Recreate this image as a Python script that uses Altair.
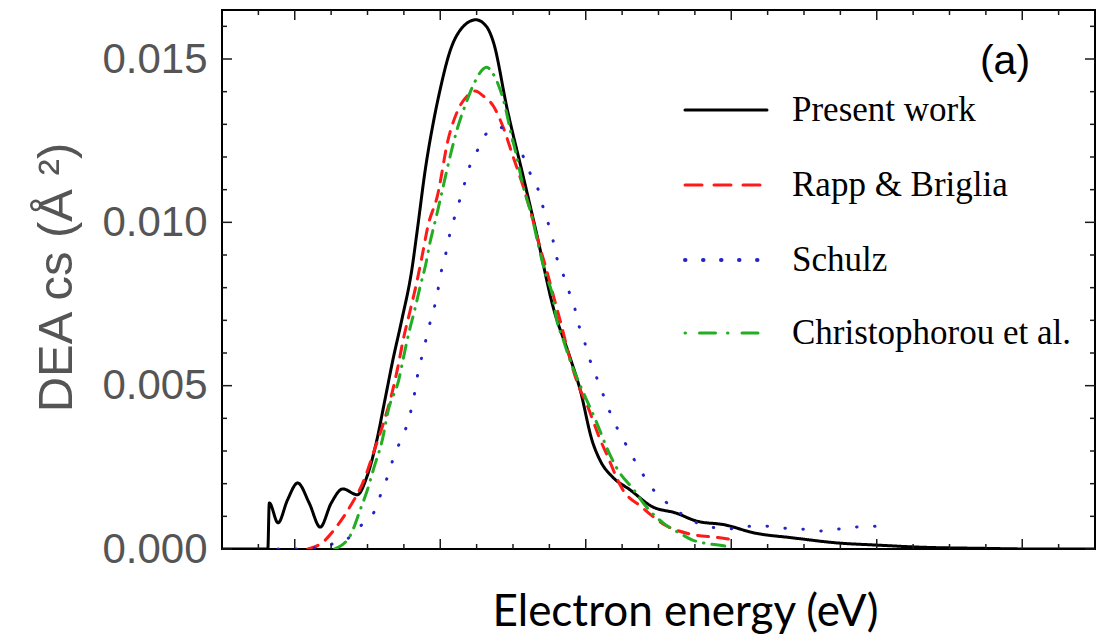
import altair as alt
import pandas as pd

# ---------------- data ----------------
series_names = ["Present work", "Rapp & Briglia", "Schulz", "Christophorou et al."]
series_colors = ["#000000", "#ff1a1a", "#2424c4", "#22ad22"]
series_dashes = [[1, 0], [11, 9], [0.5, 17.5], [13, 8, 0.5, 8]]
series_widths = [3, 3, 4, 3]

present_x = [3.00, 3.63, 3.65, 3.77, 3.90, 4.04, 4.20, 4.35, 4.50, 4.66, 4.86, 4.99,
             5.12, 5.24, 5.35, 5.47, 5.61, 5.68, 5.80, 5.90, 6.00, 6.13, 6.31, 6.49,
             6.64, 6.73, 6.92, 7.14, 7.33, 7.55, 7.78, 7.92, 8.09, 8.20, 8.37, 8.61,
             8.91, 9.24, 9.53, 9.91, 10.30, 10.85, 11.49, 12.00, 12.55, 13.46, 14.20, 15.00]
present_y = [0.0, 0.0, 0.00141, 0.00080, 0.00150, 0.00202, 0.00140, 0.00067, 0.00140, 0.00184, 0.00166, 0.00220,
             0.00325, 0.00457, 0.00580, 0.00700, 0.00856, 0.00969, 0.01170, 0.01300, 0.01408, 0.01521, 0.01598, 0.01620,
             0.01598, 0.01552, 0.01347, 0.01141, 0.00960, 0.00742, 0.00589, 0.00490, 0.00330, 0.00270, 0.00220, 0.00181,
             0.00130, 0.00110, 0.00085, 0.00074, 0.00050, 0.00034, 0.00018, 0.00012, 0.00006, 0.00002, 0.0, 0.0]

rapp_x = [4.18, 4.37, 4.56, 4.76, 4.95, 5.09, 5.24, 5.34, 5.42, 5.49, 5.58, 5.68, 5.75,
          5.83, 5.96, 6.11, 6.23, 6.37, 6.48, 6.59, 6.73, 6.86, 7.00, 7.14, 7.26, 7.34,
          7.47, 7.58, 7.67, 7.76, 7.88, 8.02, 8.20, 8.28, 8.51, 8.76, 9.10, 9.43, 9.82, 9.98]
rapp_y = [0.0, 0.00018, 0.00064, 0.00130, 0.00210, 0.00300, 0.00400, 0.00480, 0.00560, 0.00640, 0.00724, 0.00820, 0.00896,
          0.00988, 0.01080, 0.01255, 0.01337, 0.01387, 0.01402, 0.01387, 0.01356, 0.01294, 0.01202, 0.01110, 0.01018, 0.00948,
          0.00847, 0.00755, 0.00681, 0.00601, 0.00512, 0.00440, 0.00334, 0.00294, 0.00181, 0.00130, 0.00072, 0.00046, 0.00035, 0.00030]

schulz_x = [3.77, 4.06, 4.28, 4.51, 4.76, 4.92, 5.09, 5.17, 5.27, 5.34, 5.43, 5.53, 5.60,
            5.65, 5.69, 5.76, 5.86, 5.94, 6.02, 6.08, 6.13, 6.20, 6.27, 6.34, 6.41, 6.52,
            6.64, 6.82, 7.00, 7.14, 7.23, 7.34, 7.41, 7.48, 7.55, 7.60, 7.69, 7.77, 7.85,
            7.91, 7.99, 8.06, 8.15, 8.24, 8.33, 8.43, 8.54, 8.66, 8.79, 8.92, 9.10, 9.30,
            9.50, 9.75, 9.98, 10.23, 10.49, 10.73, 10.97, 11.22, 11.47, 11.70, 11.98]
schulz_y = [0.0, 0.0, 0.00003, 0.00015, 0.00037, 0.00074, 0.00113, 0.00160, 0.00218, 0.00267, 0.00319, 0.00371, 0.00426,
            0.00480, 0.00534, 0.00600, 0.00693, 0.00760, 0.00856, 0.00908, 0.00963, 0.01018, 0.01070, 0.01123, 0.01175, 0.01224,
            0.01273, 0.01291, 0.01248, 0.01202, 0.01153, 0.01104, 0.01049, 0.01000, 0.00945, 0.00893, 0.00840, 0.00788, 0.00736,
            0.00681, 0.00629, 0.00577, 0.00525, 0.00472, 0.00420, 0.00371, 0.00325, 0.00276, 0.00227, 0.00184, 0.00144, 0.00110,
            0.00083, 0.00066, 0.00062, 0.00070, 0.00070, 0.00064, 0.00061, 0.00055, 0.00061, 0.00067, 0.00070]

chris_x = [4.55, 4.76, 4.90, 4.99, 5.09, 5.21, 5.28, 5.43, 5.50, 5.57, 5.65, 5.72, 5.80,
           5.86, 5.94, 6.00, 6.16, 6.24, 6.34, 6.46, 6.64, 6.71, 6.82, 6.89, 6.96, 7.05,
           7.14, 7.26, 7.34, 7.44, 7.54, 7.60, 7.69, 7.78, 7.92, 8.15, 8.29, 8.42, 8.66,
           8.83, 9.08, 9.31, 9.46, 9.63, 9.91, 9.98]
chris_y = [0.0, 0.00040, 0.00120, 0.00175, 0.00250, 0.00340, 0.00420, 0.00518, 0.00592, 0.00663, 0.00733, 0.00800, 0.00871,
           0.00939, 0.01012, 0.01070, 0.01224, 0.01291, 0.01356, 0.01423, 0.01475, 0.01460, 0.01408, 0.01356, 0.01285, 0.01202,
           0.01110, 0.01018, 0.00939, 0.00847, 0.00779, 0.00702, 0.00641, 0.00580, 0.00503, 0.00387, 0.00310, 0.00250, 0.00181,
           0.00130, 0.00077, 0.00046, 0.00028, 0.00018, 0.00009, 0.00005]

y_tick_labels = [0.0, 0.005, 0.010, 0.015]
x_major_ticks = [4, 6, 8, 10, 12, 14]
x_minor_ticks = [3.5, 4.5, 5, 5.5, 6.5, 7, 7.5, 8.5, 9, 9.5, 10.5, 11, 11.5, 12.5, 13, 13.5, 14.5]
y_major_ticks = [0.0, 0.005, 0.010, 0.015]
y_minor_ticks = [0.001, 0.002, 0.003, 0.004, 0.006, 0.007, 0.008, 0.009,
                 0.011, 0.012, 0.013, 0.014, 0.016]
panel_label = ["(a)"]

# ---------------- build tables ----------------
rows = []
for name, xs, ys in [(series_names[0], present_x, present_y),
                     (series_names[1], rapp_x, rapp_y),
                     (series_names[2], schulz_x, schulz_y),
                     (series_names[3], chris_x, chris_y)]:
    for xv, yv in zip(xs, ys):
        rows.append({"series": name, "x": xv, "y": yv})
df = pd.DataFrame(rows)

W, H = 873, 539
XDOM = [3, 15]
YDOM = [0, 0.0165]
xscale = alt.Scale(domain=XDOM, nice=False, zero=False)
yscale = alt.Scale(domain=YDOM, nice=False, zero=False)

x_axis = alt.Axis(labels=False, ticks=False, domain=False, grid=False,
                  title="Electron energy (eV)", titleFont="Lato", titleFontSize=44,
                  titleFontWeight="normal", titleColor="#000000",
                  titleX=463, titleY=63, titleBaseline="middle", titleAlign="center")
y_axis = alt.Axis(values=y_tick_labels, format=".3f", ticks=False, domain=False, grid=False,
                  labelFont="Liberation Sans", labelFontSize=42, labelColor="#555555",
                  labelPadding=15,
                  title="DEA cs (Å ²)", titleFont="Liberation Sans", titleFontSize=49,
                  titleFontWeight="normal", titleColor="#555555",
                  titleX=-166, titleY=267, titleAngle=270,
                  titleAlign="center", titleBaseline="middle")

color_scale = alt.Scale(domain=series_names, range=series_colors)
dash_scale = alt.Scale(domain=series_names, range=series_dashes)
width_scale = alt.Scale(domain=series_names, range=series_widths)

lines = alt.Chart(df).mark_line(strokeCap="round", clip=True, interpolate="monotone").encode(
    x=alt.X("x:Q", scale=xscale, axis=x_axis),
    y=alt.Y("y:Q", scale=yscale, axis=y_axis),
    color=alt.Color("series:N", scale=color_scale, legend=None),
    strokeDash=alt.StrokeDash("series:N", scale=dash_scale, legend=None),
    strokeWidth=alt.StrokeWidth("series:N", scale=width_scale, legend=None),
)

tick_style = dict(color="#1a1a1a", strokeWidth=1.5)
xmaj = pd.DataFrame({"x": x_major_ticks})
xmin = pd.DataFrame({"x": x_minor_ticks})
ymaj = pd.DataFrame({"y": y_major_ticks})
ymin = pd.DataFrame({"y": y_minor_ticks})

def xticks(data, length):
    bottom = alt.Chart(data).mark_rule(**tick_style).encode(
        x=alt.X("x:Q", scale=xscale, axis=x_axis),
        y=alt.value(H), y2=alt.value(H - length))
    top = alt.Chart(data).mark_rule(**tick_style).encode(
        x=alt.X("x:Q", scale=xscale, axis=x_axis),
        y=alt.value(0), y2=alt.value(length))
    return [bottom, top]

def yticks(data, length):
    left = alt.Chart(data).mark_rule(**tick_style).encode(
        y=alt.Y("y:Q", scale=yscale, axis=y_axis),
        x=alt.value(0), x2=alt.value(length))
    right = alt.Chart(data).mark_rule(**tick_style).encode(
        y=alt.Y("y:Q", scale=yscale, axis=y_axis),
        x=alt.value(W), x2=alt.value(W - length))
    return [left, right]

tick_layers = xticks(xmaj, 10) + xticks(xmin, 5) + yticks(ymaj, 10) + yticks(ymin, 5)

# ---------------- manual legend (one row per series) ----------------
legend_row_y = [100, 175, 250, 323]   # pixel rows of the legend (layout)
legend_dashes = [[1, 0], [17, 12], [0.5, 17.5], [0.5, 14, 16, 12]]
legend_layers = []
for name, col, dash, wdt, ry in zip(series_names, series_colors, legend_dashes, series_widths, legend_row_y):
    row_df = pd.DataFrame({"series": [name]})
    legend_layers.append(
        alt.Chart(row_df).mark_rule(strokeWidth=wdt, strokeCap="round", color=col, strokeDash=dash).encode(
            x=alt.value(463), x2=alt.value(545), y=alt.value(ry)))
    legend_layers.append(
        alt.Chart(row_df).mark_text(align="left", baseline="middle", font="Liberation Serif",
                                    fontSize=35, color="#000000").encode(
            x=alt.value(570), y=alt.value(ry), text="series:N"))

label_df = pd.DataFrame({"t": panel_label})
label = alt.Chart(label_df).mark_text(align="center", baseline="middle", font="Liberation Sans",
                                      fontSize=41, color="#000000").encode(
    x=alt.value(783), y=alt.value(52), text="t:N")

chart = alt.layer(lines, *tick_layers, *legend_layers, label).properties(
    width=W, height=H,
    padding={"left": 222, "top": 10, "right": 9, "bottom": 88},
    autosize=alt.AutoSizeParams(type="none"),
    background="white",
).configure_view(stroke="#000000", strokeWidth=2)

chart.save("out.html", embed_options={"renderer": "svg", "actions": False})
